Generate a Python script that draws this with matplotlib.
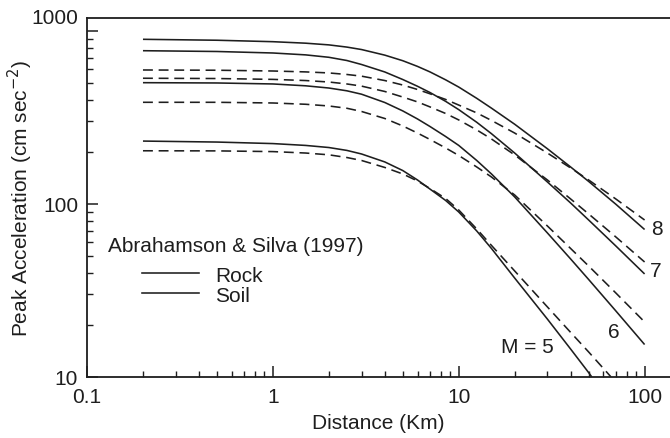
import matplotlib
matplotlib.use('Agg')
import matplotlib.pyplot as plt
from matplotlib.lines import Line2D
from matplotlib.ticker import LogLocator, NullFormatter, FixedLocator

plt.rcParams['font.family'] = ['Liberation Sans', 'DejaVu Sans']

INK = '#1e1e1e'

# Peak ground acceleration (cm/s^2) against distance (km)
distance = [0.2, 0.5, 1, 1.5, 2, 2.5, 3, 4, 5, 6, 7, 8.5, 10, 12.5, 15, 20, 30, 40, 50, 70, 100]
rock_m8 = [895, 884, 867, 850, 831, 807, 781, 725, 673, 624, 580, 522, 474, 408, 358,
           289, 208.5, 163.6, 135.0, 99.7, 71.2]
soil_m8 = [595, 593, 587, 580, 572, 560.5, 548, 517, 487, 459, 433.5, 402, 373, 336, 304,
           257, 197, 161.5, 137.6, 106.9, 80.8]
rock_m7 = [769, 761, 746, 727.5, 704.5, 675, 640, 579.5, 524, 479, 441, 392, 351, 296.6, 254.8,
           197, 134, 101.3, 80.8, 57.2, 39.4]
soil_m7 = [533, 531, 525, 517, 507, 494, 480, 447, 415, 389, 364, 333.5, 306, 268, 237.5,
           192, 137.6, 106.9, 87.6, 64.5, 46.2]
rock_m6 = [502.5, 500.5, 494, 482, 468, 451, 431, 386, 345, 310, 280.5, 245.5, 218, 178.4, 149.1,
           109.8, 68.0, 48.1, 36.6, 24.1, 15.4]
soil_m6 = [387, 387, 383.5, 377, 368.5, 357.5, 342.5, 312, 282.4, 257, 236, 210.8, 190.7, 163.6, 143.2,
           112.7, 74.6, 55.3, 43.8, 30.6, 20.8]

# the M5 curves leave the plot through the bottom axis
distance_rock_m5 = [0.2, 0.5, 1, 1.5, 2, 2.5, 3, 4, 5, 6, 7, 8.5, 10, 12.5, 15, 20, 30, 40, 50, 52]
rock_m5 = [231, 228, 223.4, 218, 212, 204, 194.5, 175, 156, 137.6, 122, 104.8, 89.9, 69.8, 55.3,
           37.3, 21.6, 14.5, 10.6, 10]
distance_soil_m5 = [0.2, 0.5, 1, 1.5, 2, 2.5, 3, 4, 5, 6, 7, 8.5, 10, 12.5, 15, 20, 30, 40, 50, 66]
soil_m5 = [203, 202.7, 200.8, 197, 192.4, 185.6, 178.4, 162.6, 149.1, 135.8, 122.9, 107.6, 92.3, 71.7, 57.6,
           41.0, 25.4, 18.1, 13.95, 10]

# magnitude labels: (text, distance, acceleration)
magnitude_labels = [('8', 116.7, 72.6), ('7', 114.6, 41.0), ('6', 68.1, 18.3), ('M = 5', 23.3, 15.0)]

fig = plt.figure(figsize=(6.70, 4.39), dpi=100)
ax = fig.add_axes([0.1299, 0.1390, 0.8694, 0.8178])

lw = 1.15
dash = (6.2, 3.6)
rock_curves = [(distance, rock_m8), (distance, rock_m7), (distance, rock_m6), (distance_rock_m5, rock_m5)]
soil_curves = [(distance, soil_m8), (distance, soil_m7), (distance, soil_m6), (distance_soil_m5, soil_m5)]
for d, a in rock_curves:
    ax.plot(d, a, color=INK, lw=lw, solid_capstyle='butt')
for d, a in soil_curves:
    ax.plot(d, a, color=INK, lw=lw, dashes=dash)

ax.set_xscale('log')
ax.set_yscale('log')
ax.set_xlim(0.1, 136.2)
ax.set_ylim(10, 1189)

ax.xaxis.set_major_locator(FixedLocator([0.1, 1, 10, 100]))
ax.set_xticklabels(['0.1', '1', '10', '100'])
ax.xaxis.set_minor_locator(LogLocator(base=10, subs=range(2, 10)))
ax.xaxis.set_minor_formatter(NullFormatter())

ax.yaxis.set_major_locator(FixedLocator([10, 100, 1000]))
ax.set_yticklabels(['10', '100', ''])
ax.yaxis.set_minor_locator(LogLocator(base=10, subs=range(2, 10)))
ax.yaxis.set_minor_formatter(NullFormatter())
ax.annotate('1000', xy=(0, 1), xycoords='axes fraction', xytext=(-6.5, 0),
            textcoords='offset points', ha='right', va='center', fontsize=15, color=INK)

ax.tick_params(which='both', direction='in', color=INK, labelcolor=INK, labelsize=15,
               top=False, right=False)
ax.tick_params(which='major', length=8, width=1.1)
ax.tick_params(which='minor', length=4.2, width=1.0)
ax.tick_params(axis='x', pad=7)
ax.tick_params(axis='y', pad=6.5)

ax.spines['right'].set_visible(False)
for side in ('left', 'bottom', 'top'):
    ax.spines[side].set_linewidth(1.3)
    ax.spines[side].set_color(INK)

ax.set_xlabel('Distance (Km)', fontsize=15, color=INK, labelpad=5)
ax.set_ylabel('Peak Acceleration (cm sec$^{-2}$)', fontsize=15, color=INK, labelpad=6)

for text, d, a in magnitude_labels:
    ax.text(d, a, text, fontsize=15, color=INK, ha='center', va='center')

ax.text(0.036, 0.352, 'Abrahamson & Silva (1997)', transform=ax.transAxes,
        fontsize=15, color=INK, ha='left', va='baseline')
handles = [Line2D([], [], color=INK, lw=lw), Line2D([], [], color=INK, lw=lw)]
ax.legend(handles, ['Rock', 'Soil'], loc='center left', bbox_to_anchor=(0.0938, 0.256),
          frameon=False, fontsize=15, handlelength=2.77, handletextpad=0.75,
          labelspacing=0.05, borderpad=0, borderaxespad=0, labelcolor=INK)

fig.savefig('out.png', dpi=100)
